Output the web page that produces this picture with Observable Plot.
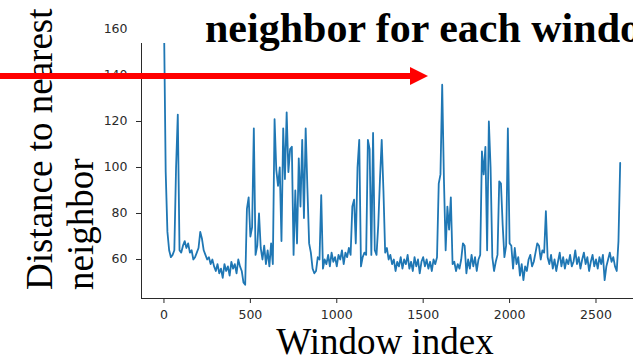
<!DOCTYPE html>
<html>
<head>
<meta charset="utf-8">
<script src="https://cdn.jsdelivr.net/npm/d3@7"></script>
<script src="https://cdn.jsdelivr.net/npm/@observablehq/plot@0.6"></script>
<style>
  html, body { margin: 0; padding: 0; background: #fff; overflow: hidden; }
  #wrap { position: relative; width: 633px; height: 358px; overflow: hidden; background: #fff; }
  #chart svg { display: block; }
  #titlebox { position: absolute; left: 130px; top: 0; width: 503px; height: 43px; background: #fff; }
  #title { position: absolute; left: 205px; top: 8px; white-space: nowrap; font-family: "Liberation Serif", serif; font-weight: bold; font-size: 42px; line-height: 40px; color: #000; }
  #overlay { position: absolute; left: 0; top: 0; pointer-events: none; }
</style>
</head>
<body>
<div id="wrap">
  <div id="chart"></div>
  <div id="titlebox"></div>
  <div id="title">neighbor for each window</div>
  <svg id="overlay" width="633" height="358">
    <text transform="translate(52,290) rotate(-90)" font-family="Liberation Serif, serif" font-size="37" fill="#000">Distance to nearest</text>
    <text transform="translate(93,290) rotate(-90)" font-family="Liberation Serif, serif" font-size="37" fill="#000">neighbor</text>
    <text x="385" y="354" text-anchor="middle" font-family="Liberation Serif, serif" font-size="37" fill="#000">Window index</text>
    <line x1="0" y1="76" x2="412" y2="76" stroke="#ff0000" stroke-width="6"/>
    <polygon points="410,67 428,76 410,85" fill="#ff0000"/>
  </svg>
</div>
<script>
// Window step between samples
const windowStep = 10;
// Distance to nearest neighbor, sampled every 10 windows (0 .. 2640)
const distances = [
  165, 98, 72, 64, 61, 62, 64, 100, 123, 64,
  63, 66, 68, 65, 67, 63, 64, 60, 61, 63,
  65, 72, 69, 64, 62, 60, 61, 58, 60, 57,
  55, 58, 54, 56, 52, 58, 55, 57, 53, 59,
  56, 58, 54, 60, 57, 55, 50, 49, 82, 87,
  70, 74, 117, 62, 66, 80, 65, 60, 66, 58,
  64, 57, 67, 58, 121, 99, 92, 100, 68, 117,
  95, 124, 98, 108, 109, 62, 90, 67, 104, 83,
  112, 78, 117, 91, 67, 63, 56, 54, 55, 61,
  60, 88, 56, 60, 58, 62, 57, 63, 59, 61,
  57, 62, 60, 64, 58, 63, 61, 65, 62, 83,
  86, 67, 100, 112, 57, 61, 63, 62, 112, 108,
  62, 115, 64, 62, 75, 95, 112, 90, 63, 65,
  60, 62, 58, 60, 55, 59, 57, 61, 56, 60,
  58, 62, 56, 59, 55, 61, 57, 60, 54, 59,
  61, 57, 60, 56, 59, 55, 60, 58, 61, 93,
  97, 136, 95, 64, 83, 73, 87, 58, 59, 55,
  58, 56, 60, 67, 66, 54, 60, 56, 62, 57,
  61, 55, 60, 62, 107, 97, 109, 64, 120, 100,
  61, 55, 59, 62, 94, 93, 75, 61, 66, 117,
  67, 66, 56, 65, 58, 61, 53, 58, 51, 57,
  55, 60, 62, 57, 59, 63, 67, 66, 60, 64,
  63, 81, 61, 58, 62, 56, 60, 55, 59, 63,
  57, 61, 56, 60, 58, 62, 57, 59, 64, 58,
  61, 56, 60, 63, 58, 61, 55, 59, 62, 57,
  60, 56, 61, 58, 62, 51, 57, 60, 63, 59,
  61, 57, 55, 68, 102
];
const xTicks = [0, 500, 1000, 1500, 2000, 2500];
const yTicks = [60, 80, 100, 120, 140, 160];

const data = distances.map((d, i) => ({w: i * windowStep, d}));

const chart = Plot.plot({
  width: 633,
  height: 358,
  marginLeft: 141,
  marginRight: 0,
  marginTop: 0,
  marginBottom: 60,
  style: {fontFamily: "DejaVu Sans", fontSize: "12.5px", color: "#2a2a2a", background: "transparent"},
  x: {domain: [-130, 2717], ticks: xTicks, tickFormat: "d", tickSize: 5, tickPadding: 7, label: null, line: true},
  y: {domain: [43.04, 172.6], ticks: yTicks, tickFormat: "d", tickSize: 5, tickPadding: 9, label: null, line: true},
  marks: [
    Plot.line(data, {x: "w", y: "d", stroke: "#1f77b4", strokeWidth: 1.8, clip: true})
  ]
});
document.getElementById("chart").appendChild(chart);
</script>
</body>
</html>
